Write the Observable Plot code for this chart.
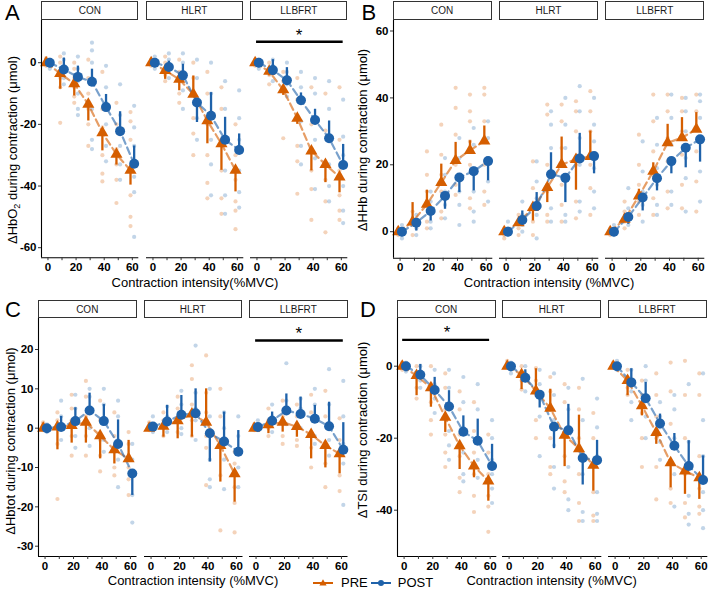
<!DOCTYPE html>
<html>
<head>
<meta charset="utf-8">
<script src="https://cdn.jsdelivr.net/npm/d3@7"></script>
<script src="https://cdn.jsdelivr.net/npm/@observablehq/plot@0.6"></script>
<style>
  body { margin: 0; background: #fff; font-family: "Liberation Sans", Arial, sans-serif; }
  #fig { position: relative; width: 709px; height: 591px; overflow: hidden; background: #fff; }
  .abs { position: absolute; white-space: nowrap; color: #000; line-height: 1; }
  .center { transform: translate(-50%, -50%); }
  .rot { transform: translate(-50%, -50%) rotate(-90deg); }
  .strip { position: absolute; box-sizing: border-box; border: 1.2px solid #333; background: #fff;
           font-size: 10px; color: #1a1a1a; text-align: center; display: flex; align-items: center; justify-content: center; }
  .letter { font-size: 22px; }
  .xlab, .ylab { font-size: 13px; }
  .ylab sub { font-size: 9px; vertical-align: -3px; line-height: 0; }
  #fig svg { position: absolute; overflow: visible; }
  .legend { position: absolute; font-size: 13px; display: flex; align-items: center; }
</style>
</head>
<body>
<div id="fig"></div>
<script>
// Contraction intensities (%MVC), training groups and time points
const intensities = [0, 10, 20, 30, 40, 50, 60];
const groups = ["CON", "HLRT", "LLBFRT"];
const timepoints = ["PRE", "POST"];

// Tick values of each outcome's y axis
const hbo2Ticks = [0, -20, -40, -60];
const hhbTicks = [0, 20, 40, 60];
const hbtotTicks = [20, 10, 0, -10, -20, -30];
const tsiTicks = [0, -20, -40];

// Groups with a significant PRE vs POST difference
const hbo2Sig = ["LLBFRT"];
const hhbSig = [];
const hbtotSig = ["LLBFRT"];
const tsiSig = ["CON"];

// ΔHbO2 — rows: CON, HLRT, LLBFRT; columns: 0..60 %MVC
const hbo2PreMean = [
  [0, -3.5, -6.8, -13.5, -22.7, -29.7, -34.9],
  [0, -2.5, -5.4, -10.2, -18.8, -26.3, -34.9],
  [0, -2.8, -8.8, -18, -28.6, -33, -37.1]];
const hbo2PreEnd = [
  [0, -8.6, -10.8, -18.9, -28.6, -33.2, -39.7],
  [0, -5.4, -9.1, -4.3, -26.3, -34.9, -41.9],
  [0, -4.3, -10.6, -20, -35.1, -38.9, -42.2]];
const hbo2PostMean = [
  [0, -2.2, -4.6, -6.2, -14.4, -22.2, -32.8],
  [0, -1.4, -4.1, -12.9, -17.2, -25, -28.3],
  [0, -2.4, -5.7, -12.2, -18.6, -24.5, -33.2]];
const hbo2PostEnd = [
  [0, 1.5, -1.1, -2.1, -10.3, -15.9, -27],
  [0, 0.5, -0.5, -19.4, -9.7, -17.7, -23.1],
  [0, 1, -1.6, -9.8, -15.1, -18.9, -26.5]];
const hbo2PreRaw = [
  [[1, 0.5, -0.5, -1, 1.5], [2, 0, -3, -5, -8, -19.5], [0, -2, -5, -8, -11, -13], [1, -5, -10, -15, -20, -27], [-3, -15, -21, -30, -36, -38.5], [-13, -20, -28, -33, -38, -45.5], [-16, -19, -25, -35, -43, -50, -53]],
  [[1, 0, -1, 0.5], [2, 0, -2, -4, -6], [1, -3, -6, -10, -13], [0, -5, -10, -18, -23, -30], [-3, -10, -20, -30, -39, -44], [-8, -15, -25, -35, -44, -49], [-20, -30, -38, -45, -48, -54]],
  [[1, 0, -1], [0, -2, -4, -7], [-3, -6, -9, -24.5], [-5, -12, -18, -27, -32, -42.5], [-8, -20, -28, -35, -41, -51], [-10, -22, -32, -38, -45, -55], [-8, -25, -35, -43, -48, -51]]];
const hbo2PostRaw = [
  [[1, 0, -1, -2, 0.5], [3, 1, -2, -5, -7], [2, -2, -6, -10, -15, -17], [6.5, 4, 0, -5, -15, -25, -28], [-1, -8, -13, -20, -27, -32], [-7, -17, -22, -27, -33, -38], [-14, -21, -27, -37, -42, -56.5]],
  [[2, 0, -1, -2], [3, 1, -2, -5], [3, 0, -5, -9, -15], [1, -5, -12, -18, -25], [0, -10, -17, -25, -33, -43], [-6, -15, -25, -35, -43, -49], [-9, -18, -25, -35, -42, -47]],
  [[1, 0, -1, -2], [1, -1, -3, -6], [0, -3, -7, -11], [-3, -8, -13, -19, -27, -33], [-5, -10, -18, -25, -31, -41], [-6, -15, -25, -33, -40, -45], [-12, -24, -30, -40, -48, -52]]];

// ΔHHb
const hhbPreMean = [
  [0, 2.9, 8.2, 14.7, 21.3, 24.3, 27.1],
  [0, 2.7, 7.2, 13.2, 20.1, 21.6, 22.5],
  [0, 3.7, 10.7, 18.1, 26.6, 28.1, 30.6]];
const hhbPreEnd = [
  [0, 8.7, 12.4, 20.2, 26.7, 27.2, 31.6],
  [0, 1.7, 3.2, 8.7, 28.3, 12.4, 30.1],
  [0, 5.2, 12.7, 20.6, 32.1, 34.1, 35.6]];
const hhbPostMean = [
  [0, 2.7, 6.2, 10.7, 16.2, 18.1, 21.1],
  [0, 3.5, 7.7, 17.2, 16.1, 21.9, 22.6],
  [0, 4.4, 10.2, 16, 21.1, 25.1, 27.6]];
const hhbPostEnd = [
  [0, 0.2, 3.2, 6.7, 11.7, 12.2, 15.2],
  [0, 6.2, 11.7, 23.6, 8.7, 29.4, 17.3],
  [0, 2.2, 6.2, 12.2, 17.3, 19.1, 20.8]];
const hhbPreRaw = [
  [[1, 0, -1, 0.5], [6, 4, 2, -1], [24, 17, 12, 8, 3, 1], [32, 23, 17, 12, 6, 4], [43, 37, 29, 20, 14, 11], [41, 36, 33, 27, 20, 10, 7], [43, 41, 33, 27, 20, 12, 8]],
  [[1, 0, -1, -2], [5, 3, 1, -1], [21, 13, 8, 3, -1], [38, 35, 20, 12, 5, 3], [38, 33, 25, 14, 8, 3], [39, 36, 30, 20, 9, 4], [42, 36, 30, 20, 13, 5]],
  [[1, 0, -1], [9, 6, 3, 1], [29, 20, 14, 9, 5], [41, 33, 24, 17, 10, 5], [41, 36, 28, 21, 12, 7], [40, 36, 30, 23, 14, 7], [41, 36, 31, 24, 15, 6]]];
const hhbPostRaw = [
  [[2, 0, -1, -2], [5, 3, 1, -1], [12, 9, 6, 3, 1], [22, 17, 12, 8, 4], [28, 22, 17, 12, 8, 2], [31, 26, 19, 12, 6, 3], [33, 28, 22, 15, 9]],
  [[3, 1, 0, -1], [9, 5, 2, 0], [21, 15, 10, 5, -2], [36, 32, 25, 17, 7, 3], [40, 32, 25, 15, 5, 3], [43.5, 36, 28, 20, 9, 6], [40, 32, 27, 19, 12, 7]],
  [[2, 0, -1], [13, 7, 4, 2], [27, 18, 12, 8, 3], [34, 26, 19, 14, 8, 5], [41, 34, 26, 20, 12, 8], [40, 36, 30, 22, 16, 6], [41, 39, 34, 28, 18, 9]]];

// ΔHbtot
const hbtotPreMean = [
  [0, 0.3, 0.7, 1.5, -1.9, -5.5, -7.8],
  [0, 0.5, 1.9, 3.6, 1.5, -4.4, -11.6],
  [0, 0.9, 1.5, 0.4, -1.6, -4.4, -6.5]];
const hbtotPreEnd = [
  [0, -5.5, -3.8, -3.8, -7.8, -9.1, -3.1],
  [0, -2.3, -2.7, -2.3, 10, -13.7, -18.8],
  [0, -1.4, -1, -2.3, -7.8, -10.1, -11.6]];
const hbtotPostMean = [
  [0, 0.3, 1.8, 4.5, 1.8, -4, -11.5],
  [0.4, 1.7, 3.4, 3.8, -1.3, -3.4, -6],
  [0.3, 1.9, 4.5, 3.6, 2.4, 0.5, -5.5]];
const hbtotPostEnd = [
  [0, 3, 5.2, 8.9, 6, 2.1, -17.1],
  [0.4, 5.8, 8.3, 10, -8.6, 4.1, -0.6],
  [0.3, 4.1, 8.7, 7.9, 5.8, 6.6, 1.4]];
const hbtotPreRaw = [
  [[1.5, 0.5, -0.5, 1], [4, 2, 0, -4, -18], [8.5, 5, 2, -2, -7], [12, 8, 3, -2, -7], [7, 2, -3, -7, -11], [4, -2, -6, -10, -12], [-1, -4, -7, -10, -13, -17]],
  [[1.5, 0.5, -0.5], [4, 2, 0, -2], [8, 5, 2, -1], [16, 12.5, 6, 2, -2], [18.5, 9, 4, -2, -5, -14.5], [10, 3, -5, -12, -26], [-6, -9, -12, -15, -19, -26.5]],
  [[1, 0.5, -0.5], [5, 2, 0, -2], [7, 3, 1, -2, -4], [6, 3, 0, -3, -4.5], [8.5, 4, -1, -5, -10], [9.5, 3, -4, -9, -15], [2.5, -3, -7, -12, -16]]];
const hbtotPostRaw = [
  [[1, 0, -1], [7, 3, 0, -3], [8.5, 5, 2, -2, -5], [10, 8, 5, 0, -4.5], [10, 6, 2, -3, -6], [7, 3, -3, -8, -15], [-4, -8, -12, -17, -24]],
  [[3, 1, 0, -1], [5.5, 3, 1, -1], [9.5, 6, 3, 0, -1.5], [21, 9, 5, 2, -3], [10, 3, -2, -8, -13, -15], [4, 0, -4, -8, -15.5], [3, -2, -6, -10, -15]],
  [[2, 0.5, -0.5], [6, 3, 1, -1], [16.5, 7, 4, 1], [7.5, 5, 3, 0], [10, 6, 2, -2, -4], [15, 6, 1, -3, -7], [12, 3, -4, -9, -19.5]]];

// ΔTSI
const tsiPreMean = [
  [0, -2.6, -6, -14.2, -22.1, -27.7, -31.9],
  [0, -2.3, -6.9, -11.7, -19.2, -22.9, -27.5],
  [0, -4, -11, -18.4, -26.8, -29.1, -31]];
const tsiPreEnd = [
  [0, -8.2, -11.4, -18.4, -28.7, -31, -37.5],
  [0, -6.5, -0.7, -6.4, -27.9, -13.6, -34.7],
  [0, -8.2, -13.8, -21.7, -33.8, -35.6, -37]];
const tsiPostMean = [
  [0, -2.4, -6.6, -11.2, -18.2, -20.7, -27.7],
  [0, -3.2, -7.9, -16.8, -17.8, -25.5, -26.1],
  [0, -4.5, -8.9, -15.9, -22.1, -27.7, -31.6]];
const tsiPostEnd = [
  [0, 0.5, -3.1, -6.8, -13.8, -14.7, -21.7],
  [0, -1, -11.6, -22.9, -10.6, -33, -20.6],
  [0, -0.7, -4.5, -13.3, -18.7, -20.7, -24.9]];
const tsiPreRaw = [
  [[1, 0, -1], [0, -3, -6, -9], [0, -5, -10, -15, -19], [-2, -6, -12, -19, -24, -28], [-7, -12, -19, -25, -31, -35], [-10, -18, -24, -30, -36, -40.5], [-19, -24, -30, -36, -39, -46]],
  [[1.5, 0.5, -0.5], [0, -2, -4, -6.5], [-0.5, -4, -8, -15, -20], [-3, -7, -12, -20, -28, -30], [-5, -10, -18, -25, -32, -35], [-6, -12, -20, -30, -38, -43], [-13, -20, -28, -35, -41.5, -43]],
  [[1, 0, -0.5], [-1, -3, -6, -8], [-4, -8, -13, -20, -28], [-2, -8, -14, -20, -28, -37], [1, -7, -16, -27, -34, -38], [1.5, -8, -20, -30, -38, -42], [-2, -8, -25, -34, -39, -41]]];
const tsiPostRaw = [
  [[1, 0, -1, -1.5], [0, -2, -4, -6], [-1, -5, -9, -13], [-1, -6, -12, -18, -22, -26], [-3, -10, -17, -24, -30, -32], [-5, -12, -20, -26, -31], [-15, -20, -26, -30, -34, -38]],
  [[1, 0, -1, -2], [0, -2, -4, -7], [-1, -5, -9, -14, -25], [-2, -8, -15, -22, -28, -34], [-6, -12, -18, -28, -37, -40], [-3.5, -15, -24, -30, -40.5, -43], [-9, -17, -25, -35, -41, -43]],
  [[1.5, 0, -1], [-1, -4, -7, -10, -15], [0, -4, -9, -14, -20], [-10, -14, -17, -21, -26], [-8, -12, -20, -30, -39], [-5, -21, -27, -36, -41, -44], [-2, -15, -25, -35, -40, -45]]];

// ---- Drawing ----
const colors = { PRE: "#D55E00", POST: "#1F62AA" };
const dodge = { PRE: -1.3, POST: 1.3 };
const xDomain = [-4.6, 64.6];

function tidy(preMean, preEnd, preRaw, postMean, postEnd, postRaw) {
  const src = { PRE: [preMean, preEnd, preRaw], POST: [postMean, postEnd, postRaw] };
  const means = [], raws = [];
  groups.forEach((group, gi) => {
    intensities.forEach((x, xi) => {
      for (const time of timepoints) {
        const [m, e, r] = src[time];
        means.push({ group, time, x, mean: m[gi][xi], end: e[gi][xi] });
        for (const v of r[gi][xi]) raws.push({ group, time, x, v });
      }
    });
  });
  return { means, raws };
}

const panels = [
  { letter: "A", data: tidy(hbo2PreMean, hbo2PreEnd, hbo2PreRaw, hbo2PostMean, hbo2PostEnd, hbo2PostRaw),
    yTicks: hbo2Ticks, sig: hbo2Sig,
    ylabel: "ΔHbO<sub>2</sub> during contraction (μmol)", xlabel: "Contraction intensity(%MVC)",
    yDomain: [-63.24, 13.69], starY: 10, barY: 6.8, barX: [-0.3, 61.3],
    left: 41.2, w: 97.3, gap: 7.2, top: 19.5, bottom: 256.7, stripTop: 1,
    letterPos: [5, 2], ylabPos: [12, 150], xlabPos: [195, 282] },
  { letter: "B", data: tidy(hhbPreMean, hhbPreEnd, hhbPreRaw, hhbPostMean, hhbPostEnd, hhbPostRaw),
    yTicks: hhbTicks, sig: hhbSig,
    ylabel: "ΔHHb during contraction (μmol)", xlabel: "Contraction intensity (%MVC)",
    yDomain: [-7.95, 63.14],
    left: 392.5, w: 99.3, gap: 7, top: 19.5, bottom: 257.3, stripTop: 1,
    letterPos: [361.5, 2], ylabPos: [362, 140], xlabPos: [549, 282] },
  { letter: "C", data: tidy(hbtotPreMean, hbtotPreEnd, hbtotPreRaw, hbtotPostMean, hbtotPostEnd, hbtotPostRaw),
    yTicks: hbtotTicks, sig: hbtotSig,
    ylabel: "ΔHbtot during contraction (μmol)", xlabel: "Contraction intensity (%MVC)",
    yDomain: [-32.62, 27.88], starY: 25, barY: 22.3, barX: [-0.3, 61.3],
    left: 38, w: 98.5, gap: 7, top: 318, bottom: 556, stripTop: 300,
    letterPos: [5, 298.7], ylabPos: [10, 441], xlabPos: [193, 580] },
  { letter: "D", data: tidy(tsiPreMean, tsiPreEnd, tsiPreRaw, tsiPostMean, tsiPostEnd, tsiPostRaw),
    yTicks: tsiTicks, sig: tsiSig,
    ylabel: "ΔTSI during contraction (μmol)", xlabel: "Contraction intensity (%MVC)",
    yDomain: [-52.86, 13.25], starY: 10.4, barY: 7.3, barX: [-1, 59.6],
    left: 396.5, w: 99.3, gap: 6.2, top: 318, bottom: 556, stripTop: 300,
    letterPos: [360, 298.7], ylabPos: [362, 430], xlabPos: [551.7, 580] }
];

const fig = document.getElementById("fig");

function addDiv(cls, html, x, y, extra = {}) {
  const d = document.createElement("div");
  d.className = cls;
  d.innerHTML = html;
  d.style.left = x + "px";
  d.style.top = y + "px";
  Object.assign(d.style, extra);
  fig.appendChild(d);
  return d;
}

function facet(panel, gi) {
  const group = groups[gi];
  const first = gi === 0;
  const mL = first ? 42 : 2, mR = 3, mT = 2, mB = 22;
  const h = panel.bottom - panel.top;
  const fx = panel.left + gi * (panel.w + panel.gap);
  const means = panel.data.means.filter(d => d.group === group);
  const raws = panel.data.raws.filter(d => d.group === group);
  const sel = (arr, t) => arr.filter(d => d.time === t);
  const xd = d => d.x + dodge[d.time];

  const marks = [];
  for (const t of timepoints)
    marks.push(Plot.dot(sel(raws, t), { x: xd, y: "v", r: 2.1, fill: colors[t], fillOpacity: 0.27 }));
  for (const t of timepoints)
    marks.push(Plot.line(sel(means, t), { x: xd, y: "mean", stroke: colors[t], strokeOpacity: 0.6,
      strokeWidth: 2.2, strokeDasharray: "7,4" }));
  for (const t of timepoints)
    marks.push(Plot.ruleX(sel(means, t), { x: xd, y1: "mean", y2: "end", stroke: colors[t], strokeWidth: 2.3 }));
  for (const t of timepoints)
    marks.push(Plot.dot(sel(means, t), { x: xd, y: "mean", symbol: t === "PRE" ? "triangle" : "circle",
      r: t === "PRE" ? 4.5 : 5, fill: colors[t] }));

  if (panel.sig.includes(group)) {
    marks.push(Plot.ruleY([panel.barY], { x1: panel.barX[0], x2: panel.barX[1], stroke: "#000", strokeWidth: 2.4 }));
    marks.push(Plot.text(["*"], { x: 30, y: panel.starY, text: d => d, fontSize: 17, fontWeight: "normal", dy: 4, fill: "#000" }));
  }

  // axis lines and ticks
  marks.push(Plot.ruleY([panel.yDomain[0]], { stroke: "#000", strokeWidth: 1.1 }));
  marks.push(Plot.axisX({ ticks: intensities, tickFormat: d => (d % 20 === 0 ? String(d) : ""), tickSize: 3,
    tickPadding: 2, label: null, fontSize: 11.5, fontWeight: "bold", stroke: "#333" }));
  if (first) {
    marks.push(Plot.ruleX([xDomain[0]], { stroke: "#000", strokeWidth: 1.1 }));
    marks.push(Plot.axisY({ ticks: panel.yTicks, tickSize: 3, tickPadding: 2, label: null,
      tickFormat: d => String(d), fontSize: 11.5, fontWeight: "bold", stroke: "#333" }));
  }

  const svg = Plot.plot({
    width: panel.w + mL + mR,
    height: h + mT + mB,
    marginLeft: mL, marginRight: mR, marginTop: mT, marginBottom: mB,
    x: { domain: xDomain, axis: null },
    y: { domain: panel.yDomain, axis: null },
    style: { background: "transparent", color: "#000", fontFamily: "'Liberation Sans', Arial, sans-serif", overflow: "visible" },
    marks
  });
  svg.style.left = (fx - mL) + "px";
  svg.style.top = (panel.top - mT) + "px";
  fig.appendChild(svg);

  const s = addDiv("strip", group, fx, panel.stripTop);
  s.style.width = panel.w + "px";
  s.style.height = (panel.top - panel.stripTop) + "px";
}

for (const panel of panels) {
  groups.forEach((g, gi) => facet(panel, gi));
  addDiv("abs letter", panel.letter, panel.letterPos[0], panel.letterPos[1]);
  addDiv("abs ylab rot", panel.ylabel, panel.ylabPos[0], panel.ylabPos[1]);
  addDiv("abs xlab center", panel.xlabel, panel.xlabPos[0], panel.xlabPos[1]);
}

// legend
const legend = document.createElement("div");
legend.className = "legend";
legend.style.left = "312px";
legend.style.top = "575px";
legend.innerHTML =
  `<svg width="22" height="14" style="position:static"><line x1="1" x2="21" y1="7" y2="7" stroke="${colors.PRE}" stroke-width="2"/>` +
  `<path d="M11,3.2 L14.6,9.4 L7.4,9.4 Z" fill="${colors.PRE}"/></svg>` +
  `<span style="margin-left:7px">PRE</span>` +
  `<svg width="22" height="14" style="position:static;margin-left:2px"><line x1="1" x2="21" y1="7" y2="7" stroke="${colors.POST}" stroke-width="2"/>` +
  `<circle cx="11" cy="7" r="3" fill="${colors.POST}"/></svg>` +
  `<span style="margin-left:6px">POST</span>`;
fig.appendChild(legend);
</script>
</body>
</html>
